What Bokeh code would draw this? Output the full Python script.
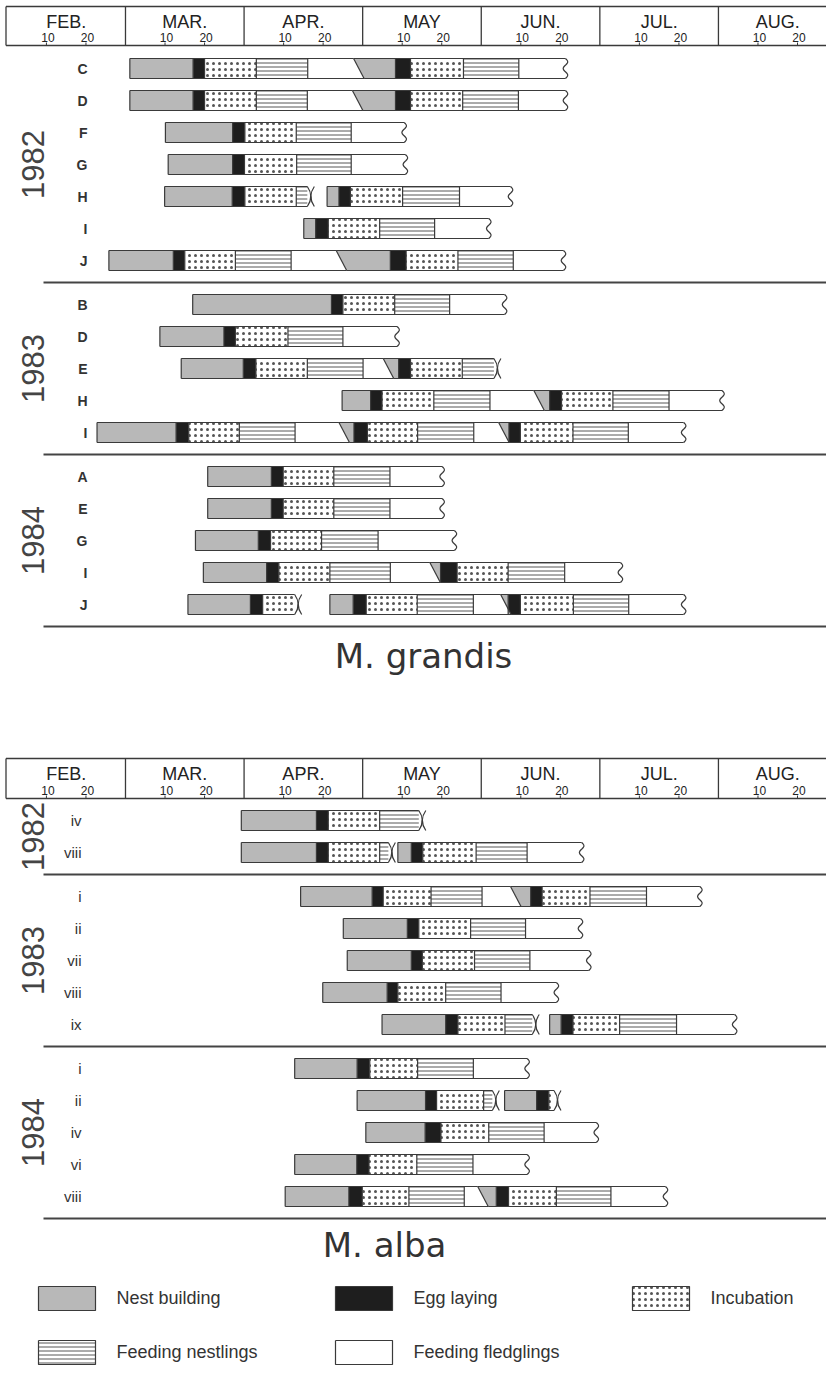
import math
from bokeh.plotting import figure
from bokeh.models import Range1d
from bokeh.core.properties import value
from bokeh.embed import file_html
from bokeh.resources import INLINE

# ---------------------------------------------------------------- data
# x axis: days counted from 1 Feb, every month drawn 30 days wide
MONTHS = ["FEB.", "MAR.", "APR.", "MAY", "JUN.", "JUL.", "AUG."]
TICK_DAYS = [10, 20]
STAGES = ["Nest building", "Egg laying", "Incubation",
          "Feeding nestlings", "Feeding fledglings"]

# each nest: list of attempts -> (stage boundaries [start, egg, inc, nestl, fledg, end], end type)
# end types: "slant" = next nesting starts (overlap), "cross" = failed, "wavy" = open end
GRANDIS_YEARS = ["1982", "1983", "1984"]
GRANDIS_NESTS = [["C", "D", "F", "G", "H", "I", "J"],
                 ["B", "D", "E", "H", "I"],
                 ["A", "E", "G", "I", "J"]]
GRANDIS_1982 = [
    [([31.1, 47.1, 50.0, 63.1, 76.1, 87.7], "slant"), ([87.7, 98.3, 102.1, 115.5, 129.5, 141.3], "wavy")],
    [([31.1, 47.1, 50.0, 63.1, 76.0, 87.4], "slant"), ([87.4, 98.3, 102.1, 115.3, 129.4, 141.3], "wavy")],
    [([40.1, 57.1, 60.2, 73.2, 87.1, 100.5], "wavy")],
    [([40.8, 57.1, 60.1, 73.3, 87.1, 100.8], "wavy")],
    [([39.9, 57.0, 60.2, 73.2, 76.0], "cross"), ([81.0, 84.0, 86.9, 100.1, 114.5, 127.4], "wavy")],
    [([75.1, 78.1, 81.3, 94.3, 108.2, 121.9], "wavy")],
    [([25.8, 42.1, 45.0, 57.8, 71.9, 83.3], "slant"), ([83.3, 97.0, 101.0, 114.1, 128.1, 140.8], "wavy")],
]
GRANDIS_1983 = [
    [([47.0, 82.1, 85.0, 98.1, 112.0, 125.9], "wavy")],
    [([38.7, 54.9, 57.8, 71.1, 85.0, 98.7], "wavy")],
    [([44.1, 59.8, 63.0, 76.0, 90.1, 95.2], "slant"), ([95.2, 99.1, 102.1, 115.2, 123.2], "cross")],
    [([84.8, 92.0, 94.9, 108.0, 122.2, 133.3], "slant"), ([133.3, 137.3, 140.3, 153.3, 167.5, 180.9], "wavy")],
    [([22.8, 42.8, 46.0, 58.8, 72.9, 84.0], "slant"), ([84.0, 87.8, 91.2, 103.9, 118.1, 124.4], "slant"),
     ([124.4, 127.0, 129.9, 143.2, 157.2, 171.2], "wavy")],
]
GRANDIS_1984 = [
    [([50.8, 66.9, 69.9, 82.7, 96.9, 110.1], "wavy")],
    [([50.8, 66.9, 69.9, 82.7, 96.9, 110.1], "wavy")],
    [([47.7, 63.6, 66.7, 79.6, 93.9, 113.2], "wavy")],
    [([49.7, 65.7, 68.8, 81.7, 97.0, 107.0], "slant"), ([107.0, 109.7, 113.9, 126.8, 141.1, 155.2], "wavy")],
    [([45.8, 61.6, 64.7, 72.8], "cross"), ([81.7, 87.6, 90.9, 103.8, 118.0, 124.9], "slant"),
     ([124.9, 126.8, 129.9, 143.3, 157.3, 171.2], "wavy")],
]

ALBA_YEARS = ["1982", "1983", "1984"]
ALBA_NESTS = [["iv", "viii"],
              ["i", "ii", "vii", "viii", "ix"],
              ["i", "ii", "iv", "vi", "viii"]]
ALBA_1982 = [
    [([59.3, 78.3, 81.3, 94.3, 104.2], "cross")],
    [([59.3, 78.3, 81.3, 94.3, 96.5], "cross"), ([98.9, 102.3, 105.2, 118.7, 131.6, 145.4], "wavy")],
]
ALBA_1983 = [
    [([74.3, 92.4, 95.2, 107.3, 120.2, 127.4], "slant"), ([127.4, 132.5, 135.4, 147.5, 161.8, 175.3], "wavy")],
    [([85.1, 101.3, 104.2, 117.3, 131.2, 145.1], "wavy")],
    [([86.1, 102.3, 105.1, 118.3, 132.3, 147.2], "wavy")],
    [([79.9, 96.2, 98.9, 111.0, 125.0, 139.0], "wavy")],
    [([94.9, 111.0, 114.1, 126.0, 132.9], "cross"), ([137.3, 140.2, 143.2, 155.0, 169.4, 184.1], "wavy")],
]
ALBA_1984 = [
    [([72.8, 88.6, 91.8, 103.9, 118.0, 131.6], "wavy")],
    [([88.6, 105.9, 108.7, 120.6, 122.8], "cross"), ([125.9, 134.0, 137.1, 138.4], "cross")],
    [([90.8, 105.8, 109.8, 121.9, 135.9, 149.1], "wavy")],
    [([72.8, 88.5, 91.6, 103.7, 117.9, 131.6], "wavy")],
    [([70.4, 86.5, 89.9, 101.7, 115.7, 119.1], "slant"), ([119.1, 123.8, 126.9, 139.0, 152.8, 166.6], "wavy")],
]

# ---------------------------------------------------------------- styles / layout
W, H = 826, 1367
PX_DAY = 3.953           # pixels per day
X0_PX = 6.4              # pixel of 1 Feb
FONT = value("Liberation Sans")
TFONT = value("DejaVu Sans")
INK = "#3a3a3a"
GREY = "#b8b8b8"
EGG = "#1e1e1e"
BAR_HALF = 10
SLANT = 10.5 / PX_DAY
CROSS_W = 7 / PX_DAY
PITCH, GAP = 32, 22


def px_x(px):
    return (px - X0_PX) / PX_DAY


p = figure(width=W, height=H, x_range=Range1d(px_x(0), px_x(W)),
           y_range=Range1d(H, 0), output_backend="svg", toolbar_location=None,
           x_axis_type=None, y_axis_type=None, min_border=0)
p.outline_line_color = None
p.background_fill_color = "white"

nb_xs, nb_ys = [], []
quads = {k: dict(left=[], right=[], top=[], bottom=[]) for k in (1, 2, 3, 4)}
out_xs, out_ys = [], []
wave_xs, wave_ys = [], []
cr = dict(x0=[], y0=[], x1=[], y1=[], cx=[], cy=[])


def add_nest(attempts, yc):
    top, bot = yc - BAR_HALF, yc + BAR_HALF
    prev = None
    for b, end in attempts:
        s = b[0]
        sb = s + SLANT if prev == "slant" else s
        nb_xs.append([s, b[1], b[1], sb])
        nb_ys.append([top, top, bot, bot])
        for k in range(1, len(b) - 1):
            q = quads[k]
            q["left"].append(b[k]); q["right"].append(b[k + 1])
            q["top"].append(top); q["bottom"].append(bot)
        e = b[-1]
        eb = e + SLANT if end == "slant" else e
        out_xs.extend([[s, e], [sb, eb], [s, sb]])
        out_ys.extend([[top, top], [bot, bot], [top, bot]])
        for xb in b[1:-1]:
            out_xs.append([xb, xb]); out_ys.append([top, bot])
        if end == "wavy":
            n = 16
            wave_xs.append([e + 2.3 * math.sin(3 * math.pi * i / n) / PX_DAY for i in range(n + 1)])
            wave_ys.append([top + (bot - top) * i / n for i in range(n + 1)])
        elif end == "cross":
            for a, c in ((e, e + CROSS_W), (e + CROSS_W, e)):
                cr["x0"].append(a); cr["y0"].append(top)
                cr["x1"].append(a); cr["y1"].append(bot)
                cr["cx"].append(c); cr["cy"].append(yc)
        prev = end


sep_xs, sep_ys = [], []


def add_section(years, nests, data, first_y):
    y = first_y
    for yi, year in enumerate(years):
        ys = []
        for lab, att in zip(nests[yi], data[yi]):
            add_nest(att, y)
            ys.append(y)
            y += PITCH
        y -= PITCH
        sep_y = y + GAP
        sep_xs.append([px_x(43), px_x(W)]); sep_ys.append([sep_y, sep_y])
        yield year, ys
        y = sep_y + GAP


def draw_header(top, bottom):
    xl, xr = px_x(5.5), px_x(W)
    p.multi_line([[xl, xr], [xl, xr]], [[top, top], [bottom, bottom]], line_color=INK, line_width=1.3)
    vx = [xl] + [30 * m for m in range(1, len(MONTHS))]
    p.multi_line([[v, v] for v in vx], [[top, bottom]] * len(vx), line_color=INK, line_width=1.3)
    p.text(x=[30 * m + 15 for m in range(len(MONTHS))], y=[top + 15] * len(MONTHS), text=MONTHS,
           text_font=FONT, text_font_size="18px", text_align="center", text_baseline="middle",
           text_color="#222")
    tx = [30 * m + d for m in range(len(MONTHS)) for d in TICK_DAYS]
    p.text(x=[t + 1.5 / PX_DAY for t in tx], y=[bottom - 8] * len(tx),
           text=[str(d) for m in range(len(MONTHS)) for d in TICK_DAYS],
           text_font=FONT, text_font_size="12px", text_align="center", text_baseline="middle",
           text_color="#222")
    p.multi_line([[t, t] for t in tx], [[bottom - 3, bottom]] * len(tx), line_color=INK, line_width=1)


def label_section(sec, lab_x, nests, bold, size):
    yrs_x, yrs_y, yrs_t = [], [], []
    lx, ly, lt = [], [], []
    for (year, ys), labs in zip(sec, nests):
        yrs_x.append(px_x(32)); yrs_y.append((ys[0] + ys[-1]) / 2); yrs_t.append(year)
        lx += [px_x(lab_x)] * len(ys); ly += ys; lt += labs
    p.text(x=yrs_x, y=yrs_y, text=yrs_t, angle=math.pi / 2, text_font=FONT, text_font_size="31px",
           text_align="center", text_baseline="middle", text_color="#444")
    p.text(x=lx, y=ly, text=lt, text_font=FONT, text_font_size=size, text_align="right",
           text_baseline="middle", text_color="#333", text_font_style="bold" if bold else "normal")


# top panel: M. grandis
draw_header(6, 45)
sec = list(add_section(GRANDIS_YEARS, GRANDIS_NESTS, [GRANDIS_1982, GRANDIS_1983, GRANDIS_1984], 68))
label_section(sec, 87, GRANDIS_NESTS, True, "14px")

# bottom panel: M. alba
draw_header(758, 798)
sec = list(add_section(ALBA_YEARS, ALBA_NESTS, [ALBA_1982, ALBA_1983, ALBA_1984], 820))
label_section(sec, 81, ALBA_NESTS, False, "15px")

# legend
LEG_X = [px_x(38), px_x(335), px_x(632), px_x(38), px_x(335)]
LEG_Y = [1298, 1298, 1298, 1352, 1352]
LEG_W = 57 / PX_DAY
LEG_H = 12
for k in range(5):
    l, r, t, bt = LEG_X[k], LEG_X[k] + LEG_W, LEG_Y[k] - LEG_H, LEG_Y[k] + LEG_H
    if k == 0:
        nb_xs.append([l, r, r, l]); nb_ys.append([t, t, bt, bt])
    else:
        q = quads[k]
        q["left"].append(l); q["right"].append(r); q["top"].append(t); q["bottom"].append(bt)
    out_xs.append([l, r, r, l, l]); out_ys.append([t, t, bt, bt, t])
p.text(x=[x + 78 / PX_DAY for x in LEG_X], y=[y - 1 for y in LEG_Y], text=STAGES, text_font=FONT,
       text_font_size="18px", text_align="left", text_baseline="middle", text_color="#333")

# ---------------------------------------------------------------- render marks
q = quads
p.quad(**q[1], fill_color=EGG, line_color=None)
p.quad(**q[2], fill_color="white", line_color=None, hatch_pattern="dot", hatch_scale=6,
       hatch_color="#555", hatch_weight=1)
p.quad(**q[3], fill_color="white", line_color=None, hatch_pattern="horizontal_line", hatch_scale=4,
       hatch_color="#555", hatch_weight=1)
p.quad(**q[4], fill_color="white", line_color=None)
p.patches(nb_xs, nb_ys, fill_color=GREY, line_color=None)
p.multi_line(out_xs, out_ys, line_color=INK, line_width=1.2)
p.multi_line(wave_xs, wave_ys, line_color=INK, line_width=1.2)
p.quadratic(x0=cr["x0"], y0=cr["y0"], x1=cr["x1"], y1=cr["y1"], cx=cr["cx"], cy=cr["cy"],
            line_color=INK, line_width=1.2)
p.multi_line(sep_xs, sep_ys, line_color="#444", line_width=1.8)

# titles
p.text(x=[px_x(423), px_x(384)], y=[655, 1244], text=["M. grandis", "M. alba"], text_font=TFONT,
       text_font_size="34px", text_align="center", text_baseline="middle", text_color="#333")

open("out.html", "w").write(file_html(p, INLINE))
